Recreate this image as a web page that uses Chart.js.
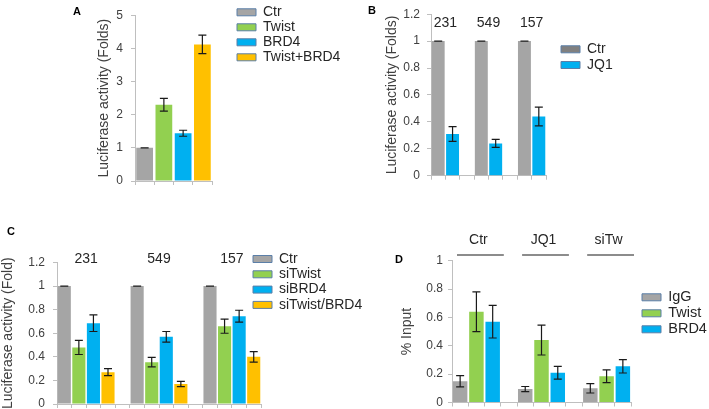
<!DOCTYPE html>
<html>
<head>
<meta charset="utf-8">
<script src="https://cdn.jsdelivr.net/npm/chart.js@4"></script>
<style>
  html, body { margin: 0; padding: 0; background: #fff; overflow: hidden; }
  body { width: 709px; height: 409px; position: relative; font-family: "Liberation Sans", Arial, sans-serif; }
  .panel { position: absolute; left: 0; top: 0; width: 709px; height: 430px; }
  .tag { position: absolute; font: bold 11px "Liberation Sans", Arial, sans-serif; line-height: 11px; color: #000; }
</style>
</head>
<body>
<div class="panel"><canvas id="chartA"></canvas></div>
<div class="panel"><canvas id="chartB"></canvas></div>
<div class="panel"><canvas id="chartC"></canvas></div>
<div class="panel"><canvas id="chartD"></canvas></div>
<div class="tag" style="left:73px;top:6px">A</div>
<div class="tag" style="left:368px;top:5px">B</div>
<div class="tag" style="left:7px;top:226px">C</div>
<div class="tag" style="left:395px;top:254px">D</div>
<script>
// Panel A: promoter activity
var seriesA = ['Ctr', 'Twist', 'BRD4', 'Twist+BRD4'];
var valuesA = [1.0, 2.3, 1.44, 4.12];
var errorsA = [0, 0.19, 0.09, 0.28];

// Panel B: JQ1 treatment in three cell lines
var cellLines = ['231', '549', '157'];
var ctrB = [1, 1, 1];
var ctrErrB = [0, 0, 0];
var jq1B = [0.31, 0.24, 0.44];
var jq1ErrB = [0.055, 0.03, 0.07];

// Panel C: knockdowns in three cell lines
var seriesC = ['Ctr', 'siTwist', 'siBRD4', 'siTwist/BRD4'];
var ctrC = [1, 1, 1];
var ctrErrC = [0, 0, 0];
var siTwistC = [0.48, 0.355, 0.66];
var siTwistErrC = [0.06, 0.04, 0.06];
var siBrd4C = [0.685, 0.57, 0.745];
var siBrd4ErrC = [0.07, 0.045, 0.05];
var siBothC = [0.27, 0.17, 0.40];
var siBothErrC = [0.03, 0.022, 0.045];

// Panel D: ChIP, % input
var conditionsD = ['Ctr', 'JQ1', 'siTw'];
var seriesD = ['IgG', 'Twist', 'BRD4'];
var iggD = [0.15, 0.095, 0.10];
var iggErrD = [0.04, 0.018, 0.033];
var twistD = [0.64, 0.44, 0.185];
var twistErrD = [0.14, 0.105, 0.045];
var brd4D = [0.57, 0.21, 0.255];
var brd4ErrD = [0.115, 0.045, 0.047];

var GRAY = '#a5a5a5', GREEN = '#92d050', BLUE = '#00b0f0', ORANGE = '#ffc000';
var FONT = '"Liberation Sans", Arial, sans-serif';
var W = 709, H = 430;

// one slot per bar, groups separated by an empty slot
function slots(values, offset, step, total) {
  var out = new Array(total).fill(null);
  values.forEach(function (v, g) { out[g * step + offset] = v; });
  return out;
}

var errorBars = {
  id: 'errorBars',
  afterDatasetsDraw: function (chart) {
    var ctx = chart.ctx, y = chart.scales.y;
    ctx.save();
    ctx.strokeStyle = '#1a1a1a';
    ctx.lineWidth = 1.2;
    chart.data.datasets.forEach(function (ds, i) {
      if (!ds.errors) return;
      chart.getDatasetMeta(i).data.forEach(function (bar, j) {
        var v = ds.data[j];
        if (v == null) return;
        var e = ds.errors[j] || 0;
        var top = y.getPixelForValue(v + e), bot = y.getPixelForValue(v - e), cap = 4;
        ctx.beginPath();
        ctx.moveTo(bar.x, top); ctx.lineTo(bar.x, bot);
        ctx.moveTo(bar.x - cap, top); ctx.lineTo(bar.x + cap, top);
        ctx.moveTo(bar.x - cap, bot); ctx.lineTo(bar.x + cap, bot);
        ctx.stroke();
      });
    });
    ctx.restore();
  }
};

// put the legend at a given spot beside the plot
var legendAt = {
  id: 'legendAt',
  afterLayout: function (chart, args, o) {
    var lg = chart.legend;
    if (!lg || o.x == null) return;
    var pad = lg.options.labels.padding, fs = lg.options.labels.font.size;
    lg.left = o.x - pad;
    lg.top = o.y - fs / 2 - pad;
    lg.width = 200; lg.height = 120;
    lg.right = lg.left + lg.width;
    lg.bottom = lg.top + lg.height;
  }
};

var groupLabels = {
  id: 'groupLabels',
  afterDraw: function (chart, args, o) {
    if (!o.texts) return;
    var ctx = chart.ctx, x = chart.scales.x;
    var slot = x.width / chart.data.labels.length;
    ctx.save();
    ctx.font = '14px ' + FONT;
    ctx.fillStyle = '#262626';
    ctx.textAlign = 'center';
    ctx.textBaseline = 'middle';
    ctx.strokeStyle = '#1a1a1a';
    ctx.lineWidth = 1.2;
    o.texts.forEach(function (t, g) {
      var first = x.getPixelForValue(g * o.step) - slot / 2;
      var last = x.getPixelForValue(g * o.step + o.bars - 1) + slot / 2;
      ctx.fillText(t, (first + last) / 2 + (o.dx || 0), o.y);
      if (o.lineY) {
        ctx.beginPath();
        ctx.moveTo(first + 5, o.lineY);
        ctx.lineTo(last + 3, o.lineY);
        ctx.stroke();
      }
    });
    ctx.restore();
  }
};

function panel(id, p) {
  return new Chart(document.getElementById(id), {
    type: 'bar',
    data: { labels: new Array(p.total).fill(''), datasets: p.datasets },
    options: {
      responsive: true,
      maintainAspectRatio: false,
      animation: false,
      layout: { padding: { left: p.area[0] - p.yWidth, top: p.area[1], right: W - p.area[2], bottom: H - p.area[3] - 5 } },
      datasets: { bar: { grouped: false, categoryPercentage: 1, barPercentage: p.barPct, borderWidth: 0 } },
      scales: {
        x: {
          grid: { offset: true, drawOnChartArea: false, tickLength: 4, color: '#bfbfbf' },
          border: { color: '#bfbfbf' },
          ticks: { display: false },
          afterFit: function (s) { s.height = 5; }
        },
        y: {
          min: 0, max: p.yMax,
          ticks: {
            stepSize: p.yStep, padding: p.tickPad, color: '#404040', font: { family: FONT, size: 12 },
            callback: function (v) { return String(Math.round(v * 10) / 10); }
          },
          grid: { drawOnChartArea: false, tickLength: 4, color: '#bfbfbf' },
          border: { color: '#bfbfbf' },
          title: { display: true, text: p.yTitle, color: '#404040', font: { family: FONT, size: 14 }, padding: { top: p.titlePad, bottom: 0 } },
          afterFit: function (s) { s.width = p.yWidth; }
        }
      },
      plugins: {
        tooltip: { enabled: false },
        legend: {
          position: 'chartArea',
          align: 'start',
          labels: {
            boxWidth: 19, boxHeight: 7, padding: p.legend.pad, color: '#262626',
            font: { family: FONT, size: p.legend.size },
            generateLabels: function (chart) {
              return Chart.defaults.plugins.legend.labels.generateLabels(chart).map(function (item, i) {
                item.fillStyle = chart.data.datasets[i].legendColor || item.fillStyle;
                item.strokeStyle = '#5b7fa8';
                item.lineWidth = 1;
                return item;
              });
            }
          }
        },
        legendAt: { x: p.legend.x, y: p.legend.y },
        groupLabels: p.groups || {}
      }
    },
    plugins: [errorBars, legendAt, groupLabels]
  });
}

var colorsA = [GRAY, GREEN, BLUE, ORANGE];
panel('chartA', {
  total: 4, area: [135, 10, 212, 181], yWidth: 40, titlePad: 1, tickPad: 8,
  yMax: 5, yStep: 1, yTitle: 'Luciferase activity (Folds)', barPct: 0.87,
  legend: { x: 237, y: 12.3, pad: 1, size: 14 },
  datasets: seriesA.map(function (name, i) {
    return { label: name, data: slots([valuesA[i]], i, 4, 4), errors: slots([errorsA[i]], i, 4, 4), backgroundColor: colorsA[i] };
  })
});

panel('chartB', {
  total: 8, area: [431, 13.3, 546, 175.7], yWidth: 48, titlePad: 1, tickPad: 7,
  yMax: 1.2, yStep: 0.2, yTitle: 'Luciferase activity (Folds)', barPct: 0.9,
  legend: { x: 561, y: 49.3, pad: 1.7, size: 14 },
  groups: { texts: cellLines, step: 3, bars: 2, y: 23.5 },
  datasets: [
    { label: 'Ctr', data: slots(ctrB, 0, 3, 8), errors: slots(ctrErrB, 0, 3, 8), backgroundColor: GRAY, legendColor: '#808080' },
    { label: 'JQ1', data: slots(jq1B, 1, 3, 8), errors: slots(jq1ErrB, 1, 3, 8), backgroundColor: BLUE }
  ]
});

var valsC = [ctrC, siTwistC, siBrd4C, siBothC];
var errsC = [ctrErrC, siTwistErrC, siBrd4ErrC, siBothErrC];
panel('chartC', {
  total: 14, area: [57, 262.5, 261, 404], yWidth: 57, titlePad: 0, tickPad: 8,
  yMax: 1.2, yStep: 0.2, yTitle: 'Luciferase activity (Fold)', barPct: 0.9,
  legend: { x: 253, y: 259, pad: 1.3, size: 14 },
  groups: { texts: cellLines, step: 5, bars: 4, y: 259 },
  datasets: seriesC.map(function (name, i) {
    return { label: name, data: slots(valsC[i], i, 5, 14), errors: slots(errsC[i], i, 5, 14), backgroundColor: colorsA[i] };
  })
});

var valsD = [iggD, twistD, brd4D];
var errsD = [iggErrD, twistErrD, brd4ErrD];
var colorsD = [GRAY, GREEN, BLUE];
panel('chartD', {
  total: 11, area: [452, 260.7, 631, 402.5], yWidth: 54, titlePad: 1, tickPad: 5,
  yMax: 1, yStep: 0.2, yTitle: '% Input', barPct: 0.89,
  legend: { x: 642, y: 297.3, pad: 1.5, size: 14.5 },
  groups: { texts: conditionsD, step: 4, bars: 3, y: 240, dx: 2, lineY: 255 },
  datasets: seriesD.map(function (name, i) {
    return { label: name, data: slots(valsD[i], i, 4, 11), errors: slots(errsD[i], i, 4, 11), backgroundColor: colorsD[i] };
  })
});
</script>
</body>
</html>
